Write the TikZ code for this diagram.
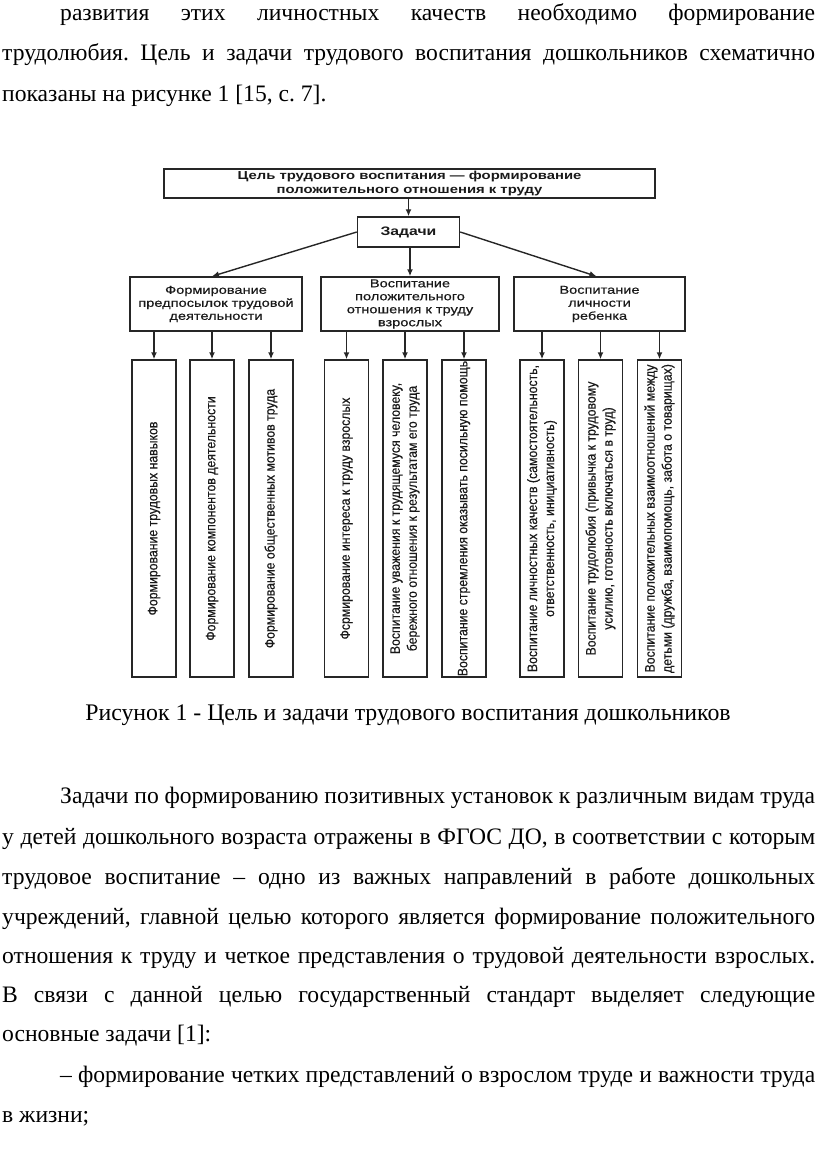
\documentclass[tikz,border=0pt]{standalone}
\usepackage{fontspec}
\setmainfont{Liberation Serif}
\newfontfamily\narf[FakeStretch=0.89,FakeBold=0.5]{Liberation Sans}
\newfontfamily\widf[FakeStretch=1.28,FakeBold=0.5]{Liberation Sans}
\newfontfamily\widbf[FakeStretch=1.28]{Liberation Sans Bold}
\usetikzlibrary{arrows.meta}
\tikzset{
  ln/.style={line width=1.4pt, draw=black!85},
  arr/.style={ln, -{Latex[length=7pt,width=6pt]}},
  bx/.style={ln, rectangle, inner sep=0pt, align=center, text=black!90},
  tallbox/.style={ln, rectangle, inner sep=0pt, minimum width=44pt, minimum height=317pt},
  talltxt/.style={rotate=90, inner sep=0pt, align=center, text=black!90,
    font=\narf\fontsize{13.8}{17}\selectfont},
  lvtwo/.style={bx, minimum height=54pt, font=\widf\fontsize{11.4}{13}\selectfont},
  bodyline/.style={anchor=base west, inner sep=0pt, font=\fontsize{23.6}{28}\selectfont},
}
\newcommand\jline[2]{\makebox[#1][s]{#2}}
\frenchspacing
\begin{document}
\begin{tikzpicture}[x=1pt,y=-1pt]
\useasboundingbox (0,0) rectangle (816,1150);
% body text above
\node[bodyline] (t1) at (60,21) {\jline{755pt}{развития этих личностных качеств необходимо формирование}};
\node[bodyline] (t2) at (2,61) {\jline{813pt}{трудолюбия. Цель и задачи трудового воспитания дошкольников схематично}};
\node[bodyline] (t3) at (2,102) {показаны на рисунке 1 [15, с. 7].};
% diagram
\node[bx, minimum width=491pt, minimum height=29pt, font=\widbf\fontsize{11.6}{13.5}\selectfont] (goal) at (409.5,183.5)
  {Цель трудового воспитания — формирование\\положительного отношения к труду};
\node[bx, minimum width=102pt, minimum height=30pt, font=\widbf\fontsize{12.3}{14}\selectfont] (zad) at (408.5,232) {Задачи};
\node[lvtwo, minimum width=172pt] (b1) at (216,304) {Формирование\\предпосылок трудовой\\деятельности};
\node[lvtwo, minimum width=178pt] (b2) at (410,304) {Воспитание\\положительного\\отношения к труду\\взрослых};
\node[lvtwo, minimum width=171pt] (b3) at (599.5,304) {Воспитание\\личности\\ребенка};
\draw[arr] (goal.south -| zad.north) -- (zad.north);
\draw[arr] (zad.west) -- ([xshift=-4pt]b1.north);
\draw[arr] (zad.south -| b2.north) -- (b2.north);
\draw[arr] (zad.east) -- ([xshift=-3pt]b3.north);
% tall boxes
\node[tallbox] (ca) at (154,518.5) {};
\node[tallbox] (cb) at (212,518.5) {};
\node[tallbox] (cc) at (271,518.5) {};
\node[tallbox] (cd) at (346.5,518.5) {};
\node[tallbox] (ce) at (405,518.5) {};
\node[tallbox] (cf) at (464,518.5) {};
\node[tallbox] (cg) at (542,518.5) {};
\node[tallbox] (ch) at (600.5,518.5) {};
\node[tallbox] (ci) at (659.5,518.5) {};
\node[talltxt] (ta) at (ca.center) {Формирование трудовых навыков};
\node[talltxt] (tb) at (cb.center) {Формирование компонентов деятельности};
\node[talltxt] (tc) at (cc.center) {Формирование общественных мотивов труда};
\node[talltxt] (td) at (cd.center) {Фсрмирование интереса к труду взрослых};
\node[talltxt] (te) at (ce.center) {Воспитание уважения к трудящемуся человеку,\\бережного отношения к результатам его труда};
\node[talltxt] (tf) at (cf.center) {Воспитание стремления оказывать посильную помощь};
\node[talltxt] (tg) at (cg.center) {Воспитание личностных качеств (самостоятельность,\\ответственность, инициативность)};
\node[talltxt] (th) at (ch.center) {Воспитание трудолюбия (привычка к трудовому\\усилию, готовность включаться в труд)};
\node[talltxt] (ti) at (ci.center) {Воспитание положительных взаимоотношений между\\детьми (дружба, взаимопомощь, забота о товарищах)};
\foreach \p/\c in {b1/ca,b1/cb,b1/cc,b2/cd,b2/ce,b2/cf,b3/cg,b3/ch,b3/ci}
  \draw[arr] (\p.south -| \c.north) -- (\c.north);
% caption and body text below
\node[anchor=base, inner sep=0pt, font=\fontsize{23.8}{28}\selectfont] (cap) at (408,720) {Рисунок 1 - Цель и задачи трудового воспитания дошкольников};
\node[bodyline] (u1) at (60,803) {\jline{755pt}{Задачи по формированию позитивных установок к различным видам труда}};
\node[bodyline] (u2) at (2,844) {\jline{813pt}{у детей дошкольного возраста отражены в ФГОС ДО, в соответствии с которым}};
\node[bodyline] (u3) at (2,884) {\jline{813pt}{трудовое воспитание – одно из важных направлений в работе дошкольных}};
\node[bodyline] (u4) at (2,924) {\jline{813pt}{учреждений, главной целью которого является формирование положительного}};
\node[bodyline] (u5) at (2,963) {\jline{813pt}{отношения к труду и четкое представления о трудовой деятельности взрослых.}};
\node[bodyline] (u6) at (2,1002) {\jline{813pt}{В связи с данной целью государственный стандарт выделяет следующие}};
\node[bodyline] (u7) at (2,1041) {основные задачи [1]:};
\node[bodyline] (u8) at (60,1082) {\jline{755pt}{– формирование четких представлений о взрослом труде и важности труда}};
\node[bodyline] (u9) at (2,1122) {в жизни;};
\end{tikzpicture}
\end{document}
